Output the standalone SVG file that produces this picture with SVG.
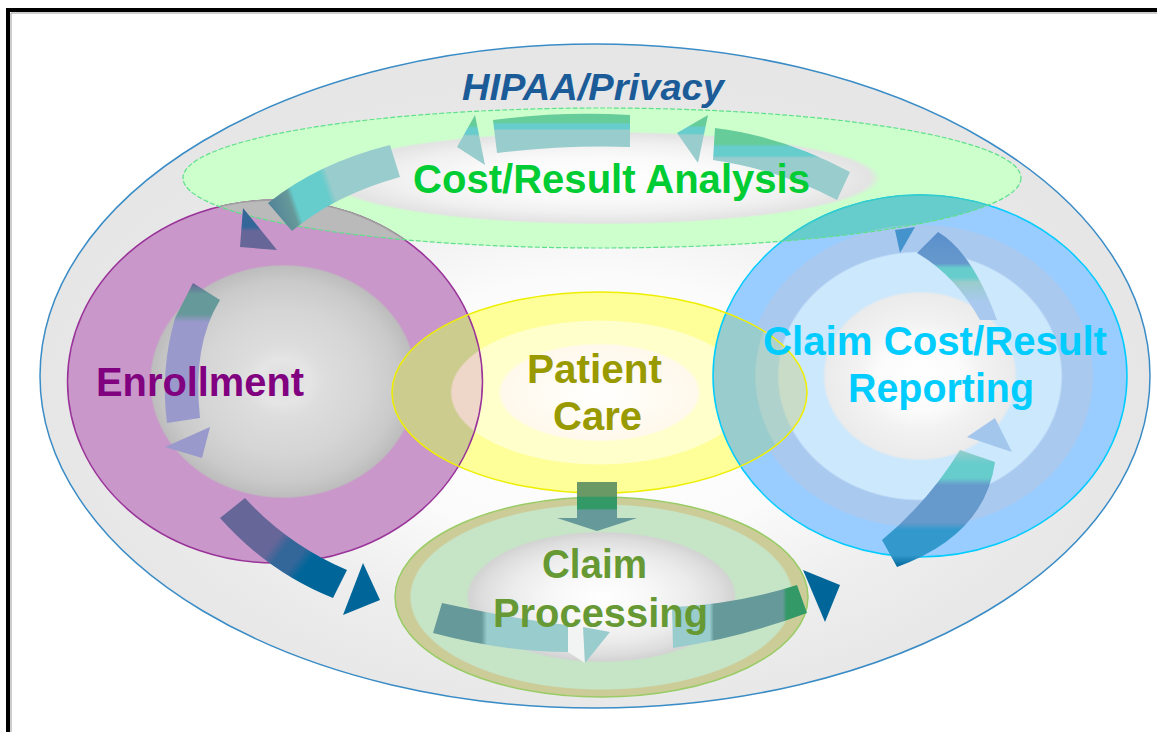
<svg xmlns="http://www.w3.org/2000/svg" width="1157" height="732" viewBox="0 0 1157 732">
<style>
.lbl{font-family:"Liberation Sans",Arial,sans-serif;font-weight:bold;font-size:40px}
.node-line{fill:none;stroke-width:1.5}
</style>
<defs>
<radialGradient id="gOuter" cx="0.5" cy="0.55" r="0.5">
<stop offset="0" stop-color="#ffffff"/><stop offset="0.4" stop-color="#fbfbfb"/><stop offset="0.65" stop-color="#efefef"/><stop offset="0.85" stop-color="#e9e9e9"/><stop offset="1" stop-color="#e6e6e6"/>
</radialGradient>
<radialGradient id="gCost" cx="0.5" cy="0.5" r="0.5">
<stop offset="0" stop-color="#ffffff"/><stop offset="0.3" stop-color="#fafafa"/><stop offset="0.5" stop-color="#f0f0f0"/><stop offset="0.64" stop-color="#e3e3e3"/><stop offset="0.665" stop-color="#ccffcc"/><stop offset="1" stop-color="#ccffcc"/>
</radialGradient>
<radialGradient id="gEnr" cx="0.52" cy="0.5" r="0.5">
<stop offset="0" stop-color="#dcdcdc"/><stop offset="0.12" stop-color="#e5e5e5"/><stop offset="0.2" stop-color="#dddddd"/><stop offset="0.4" stop-color="#d5d5d5"/><stop offset="0.55" stop-color="#cacaca"/><stop offset="0.635" stop-color="#bdbdbd"/><stop offset="0.645" stop-color="#c997c9"/><stop offset="1" stop-color="#c997c9"/>
</radialGradient>
<radialGradient id="gBlue" cx="0.5" cy="0.5" r="0.5">
<stop offset="0" stop-color="#ffffff"/><stop offset="0.2" stop-color="#fbfbfb"/><stop offset="0.3" stop-color="#f2f2f2"/><stop offset="0.455" stop-color="#ebebeb"/><stop offset="0.47" stop-color="#cce8fc"/><stop offset="0.68" stop-color="#cce8fc"/><stop offset="0.69" stop-color="#a9c9ef"/><stop offset="0.83" stop-color="#a9c9ef"/><stop offset="0.84" stop-color="#99ccff"/><stop offset="1" stop-color="#99ccff"/>
</radialGradient>
<radialGradient id="gPat" cx="0.5" cy="0.5" r="0.5">
<stop offset="0" stop-color="#ffffff"/><stop offset="0.25" stop-color="#fffcf4"/><stop offset="0.47" stop-color="#fff8ec"/><stop offset="0.49" stop-color="#ffffcc"/><stop offset="0.71" stop-color="#ffffcc"/><stop offset="0.72" stop-color="#ffff99"/><stop offset="1" stop-color="#ffff99"/>
</radialGradient>
<radialGradient id="gClaim" cx="0.5" cy="0.5" r="0.5">
<stop offset="0" stop-color="#ffffff"/><stop offset="0.25" stop-color="#f7f7f7"/><stop offset="0.45" stop-color="#ebebeb"/><stop offset="0.58" stop-color="#dddddd"/><stop offset="0.64" stop-color="#d3d3d3"/><stop offset="0.655" stop-color="#c6e4c6"/><stop offset="0.92" stop-color="#c6e4c6"/><stop offset="0.93" stop-color="#cccc99"/><stop offset="1" stop-color="#cccc99"/>
</radialGradient>
<radialGradient id="gBlueG" cx="0.5" cy="0.5" r="0.5">
<stop offset="0" stop-color="#8ccfd6"/><stop offset="0.83" stop-color="#8ccfd6"/><stop offset="0.84" stop-color="#66cccc"/><stop offset="1" stop-color="#66cccc"/>
</radialGradient>
<radialGradient id="gPatE" cx="0.5" cy="0.5" r="0.5">
<stop offset="0" stop-color="#eed6c8"/><stop offset="0.71" stop-color="#eed6c8"/><stop offset="0.72" stop-color="#cccc8e"/><stop offset="1" stop-color="#cccc8e"/>
</radialGradient>
<radialGradient id="gBlueP" cx="0.5" cy="0.5" r="0.5">
<stop offset="0" stop-color="#c9dcc8"/><stop offset="0.68" stop-color="#c9dcc8"/><stop offset="0.69" stop-color="#b0d2cc"/><stop offset="0.79" stop-color="#b0d2cc"/><stop offset="0.8" stop-color="#99cccc"/><stop offset="1" stop-color="#99cccc"/>
</radialGradient>
<linearGradient id="gTeal" x1="0" y1="0" x2="0" y2="1">
<stop offset="0" stop-color="#66cc99"/><stop offset="0.22" stop-color="#66cc99"/><stop offset="0.26" stop-color="#66cccc"/><stop offset="0.38" stop-color="#66cccc"/><stop offset="0.42" stop-color="#99cccc"/><stop offset="1" stop-color="#99cccc"/>
</linearGradient>
<linearGradient id="gTL" gradientUnits="userSpaceOnUse" x1="400" y1="170" x2="268" y2="215">
<stop offset="0" stop-color="#99cccc"/><stop offset="0.5" stop-color="#99cccc"/><stop offset="0.55" stop-color="#66cccc"/><stop offset="0.78" stop-color="#66cccc"/><stop offset="0.82" stop-color="#669999"/><stop offset="1" stop-color="#4d7f99"/>
</linearGradient>
<linearGradient id="gTLHead" x1="0" y1="0" x2="0" y2="1">
<stop offset="0" stop-color="#336699"/><stop offset="0.45" stop-color="#336699"/><stop offset="0.55" stop-color="#666699"/><stop offset="1" stop-color="#666699"/>
</linearGradient>
<linearGradient id="gEnrIn" x1="0" y1="0" x2="0" y2="1">
<stop offset="0" stop-color="#666699"/><stop offset="0.08" stop-color="#669999"/><stop offset="0.22" stop-color="#669999"/><stop offset="0.28" stop-color="#9999cc"/><stop offset="1" stop-color="#9999cc"/>
</linearGradient>
<linearGradient id="gBig" gradientUnits="userSpaceOnUse" x1="230" y1="505" x2="340" y2="590">
<stop offset="0" stop-color="#666699"/><stop offset="0.42" stop-color="#666699"/><stop offset="0.5" stop-color="#336699"/><stop offset="0.62" stop-color="#336699"/><stop offset="0.7" stop-color="#006699"/><stop offset="1" stop-color="#006699"/>
</linearGradient>
<linearGradient id="gCL" gradientUnits="userSpaceOnUse" x1="433" y1="0" x2="568" y2="0">
<stop offset="0" stop-color="#669999"/><stop offset="0.36" stop-color="#669999"/><stop offset="0.4" stop-color="#99cccc"/><stop offset="1" stop-color="#99cccc"/>
</linearGradient>
<linearGradient id="gCR" gradientUnits="userSpaceOnUse" x1="672" y1="0" x2="807" y2="0">
<stop offset="0" stop-color="#99cccc"/><stop offset="0.28" stop-color="#99cccc"/><stop offset="0.31" stop-color="#669999"/><stop offset="0.82" stop-color="#669999"/><stop offset="0.85" stop-color="#339966"/><stop offset="1" stop-color="#339966"/>
</linearGradient>
<linearGradient id="gDown" x1="0" y1="0" x2="0" y2="1">
<stop offset="0" stop-color="#6b9966"/><stop offset="0.38" stop-color="#6b9966"/><stop offset="0.42" stop-color="#339966"/><stop offset="0.72" stop-color="#339966"/><stop offset="0.76" stop-color="#669999"/><stop offset="1" stop-color="#669999"/>
</linearGradient>
<linearGradient id="gBT" gradientUnits="userSpaceOnUse" x1="0" y1="232" x2="0" y2="322">
<stop offset="0" stop-color="#5a8fcc"/><stop offset="0.35" stop-color="#6699cc"/><stop offset="0.4" stop-color="#66cccc"/><stop offset="0.5" stop-color="#66cccc"/><stop offset="0.56" stop-color="#99cccc"/><stop offset="0.78" stop-color="#a9c9ef"/><stop offset="1" stop-color="#a9c9ef"/>
</linearGradient>
<linearGradient id="gBB" gradientUnits="userSpaceOnUse" x1="0" y1="450" x2="0" y2="567">
<stop offset="0" stop-color="#99cccc"/><stop offset="0.12" stop-color="#66cccc"/><stop offset="0.24" stop-color="#66cccc"/><stop offset="0.3" stop-color="#6699cc"/><stop offset="0.62" stop-color="#6699cc"/><stop offset="0.68" stop-color="#3399cc"/><stop offset="0.9" stop-color="#3399cc"/><stop offset="1" stop-color="#006699"/>
</linearGradient>
<clipPath id="cGreen"><ellipse cx="602" cy="178" rx="419" ry="70"/></clipPath>
<clipPath id="cEnr"><ellipse cx="275" cy="381.5" rx="207.5" ry="181.5"/></clipPath>
<clipPath id="cBlue"><ellipse cx="920" cy="376" rx="207" ry="181"/></clipPath>
<clipPath id="cPat"><ellipse cx="599.5" cy="392.5" rx="207.5" ry="100.5"/></clipPath>
</defs>

<rect width="1157" height="732" fill="#ffffff"/>
<path d="M11,732 V13 H1157" fill="none" stroke="#9a9a9a" stroke-width="1"/>
<path d="M8,732 V10 H1157" fill="none" stroke="#000000" stroke-width="4"/>

<g id="nodes">
<g id="hipaa-privacy">
<ellipse cx="595" cy="376" rx="555" ry="332" fill="url(#gOuter)" stroke="#3a8cc6" stroke-width="1.5"/>
</g>
<g id="cost-result-analysis">
<ellipse cx="602" cy="178" rx="419" ry="70" fill="url(#gCost)"/>
</g>
<g id="enrollment">
<ellipse cx="275" cy="381.5" rx="207.5" ry="181.5" fill="url(#gEnr)" stroke="#993399" class="node-line" style="fill:url(#gEnr)"/>
</g>
<g id="claim-cost-result-reporting">
<ellipse cx="920" cy="376" rx="207" ry="181" fill="url(#gBlue)" stroke="#00ccff" stroke-width="1.5"/>
</g>
<g id="claim-processing">
<ellipse cx="601.5" cy="597" rx="206.5" ry="100" fill="url(#gClaim)" stroke="#99cc66" stroke-width="1.5"/>
</g>
<g id="patient-care">
<ellipse cx="599.5" cy="392.5" rx="207.5" ry="100.5" fill="url(#gPat)"/>
</g>
</g>

<g id="overlaps">
<ellipse cx="275" cy="381.5" rx="207.5" ry="181.5" fill="#bababa" stroke="#a0a0a0" stroke-width="1.5" clip-path="url(#cGreen)"/>
<ellipse cx="920" cy="376" rx="207" ry="181" fill="url(#gBlueG)" stroke="#33cccc" stroke-width="1.5" clip-path="url(#cGreen)"/>
<ellipse cx="602" cy="178" rx="419" ry="70" fill="none" stroke="#5ee08a" stroke-width="1.2" stroke-dasharray="5 2"/>
<ellipse cx="599.5" cy="392.5" rx="207.5" ry="100.5" fill="url(#gPatE)" clip-path="url(#cEnr)"/>
<ellipse cx="920" cy="376" rx="207" ry="181" fill="url(#gBlueP)" clip-path="url(#cPat)"/>
<ellipse cx="275" cy="381.5" rx="207.5" ry="181.5" fill="none" stroke="#993399" stroke-width="1.5" clip-path="url(#cPat)"/>
<ellipse cx="920" cy="376" rx="207" ry="181" fill="none" stroke="#00ccff" stroke-width="1.5" clip-path="url(#cPat)"/>
<ellipse cx="599.5" cy="392.5" rx="207.5" ry="100.5" fill="none" stroke="#eeee00" stroke-width="1.5"/>
</g>

<g id="connectors">
<path d="M715,128 Q782,136 850,172 L837,200 Q780,170 713,160 Z" fill="url(#gTeal)"/>
<path d="M677,133 L708,115 L698,163 Z" fill="url(#gTeal)"/>
<path d="M493,120 Q561,111 630,115 L630,147 Q563,145 497,153 Z" fill="url(#gTeal)"/>
<path d="M457,147 L475,115 L485,165 Z" fill="url(#gTeal)"/>
<path d="M390,145 L400,177 Q335,195 292,231 L268,203 Q318,163 390,145 Z" fill="url(#gTL)"/>
<path d="M243,208 L277,250 L240,247 Z" fill="url(#gTLHead)"/>
<path d="M193,283 L220,300 Q192,345 200,418 L167,423 Q160,370 175,318 Z" fill="url(#gEnrIn)"/>
<path d="M165,447 L210,427 L202,458 Z" fill="#9999cc"/>
<path d="M220,518 L245,498 Q288,545 347,570 L333,598 Q268,572 220,518 Z" fill="url(#gBig)"/>
<path d="M363,563 L380,600 L343,615 Z" fill="#006699"/>
<path d="M442,603 Q520,620 568,625 L568,652 Q505,652 433,633 Z" fill="url(#gCL)"/>
<path d="M568,624 L583,627 L585,663 L568,652 Z" fill="#f2f4f4"/>
<path d="M583,627 L610,632 L585,663 Z" fill="#99cccc"/>
<path d="M672,607 Q735,605 797,585 L807,613 Q740,638 673,648 Z" fill="url(#gCR)"/>
<path d="M803,570 L840,585 L825,622 Z" fill="#006699"/>
<rect x="577" y="482" width="40" height="37" fill="url(#gDown)"/>
<path d="M557,518 L637,518 L597,531 Z" fill="#669999"/>
<path d="M895,230 L915,227 L900,253 Z" fill="#4493cc"/>
<path d="M917,253 L938,232 Q972,252 997,320 L980,320 Q955,275 917,253 Z" fill="url(#gBT)"/>
<path d="M960,450 L995,462 Q985,535 897,567 L882,540 Q928,502 960,450 Z" fill="url(#gBB)"/>
<path d="M967,437 L995,418 L1012,452 Z" fill="#a3c6ec"/>
</g>

<g id="labels">
<text id="t-hipaa" x="462" y="100" font-family="Liberation Sans, Arial, sans-serif" font-weight="bold" font-style="italic" font-size="36" fill="#1b5c98" textLength="262" lengthAdjust="spacingAndGlyphs">HIPAA/Privacy</text>
<text id="t-cost" class="lbl" x="413" y="193" fill="#00cc33" textLength="397" lengthAdjust="spacingAndGlyphs">Cost/Result Analysis</text>
<text id="t-enrollment" class="lbl" x="96" y="396" fill="#800080" textLength="208" lengthAdjust="spacingAndGlyphs">Enrollment</text>
<text id="t-patient" class="lbl" fill="#999900"><tspan x="527" y="383" textLength="135" lengthAdjust="spacingAndGlyphs">Patient</tspan><tspan x="553" y="430" textLength="89" lengthAdjust="spacingAndGlyphs">Care</tspan></text>
<text id="t-reporting" class="lbl" fill="#00ccff"><tspan x="763" y="355" textLength="344" lengthAdjust="spacingAndGlyphs">Claim Cost/Result</tspan><tspan x="848" y="402" textLength="186" lengthAdjust="spacingAndGlyphs">Reporting</tspan></text>
<text id="t-claim" class="lbl" fill="#669933"><tspan x="542" y="578" textLength="105" lengthAdjust="spacingAndGlyphs">Claim</tspan><tspan x="493" y="627" textLength="215" lengthAdjust="spacingAndGlyphs">Processing</tspan></text>
</g>
</svg>
